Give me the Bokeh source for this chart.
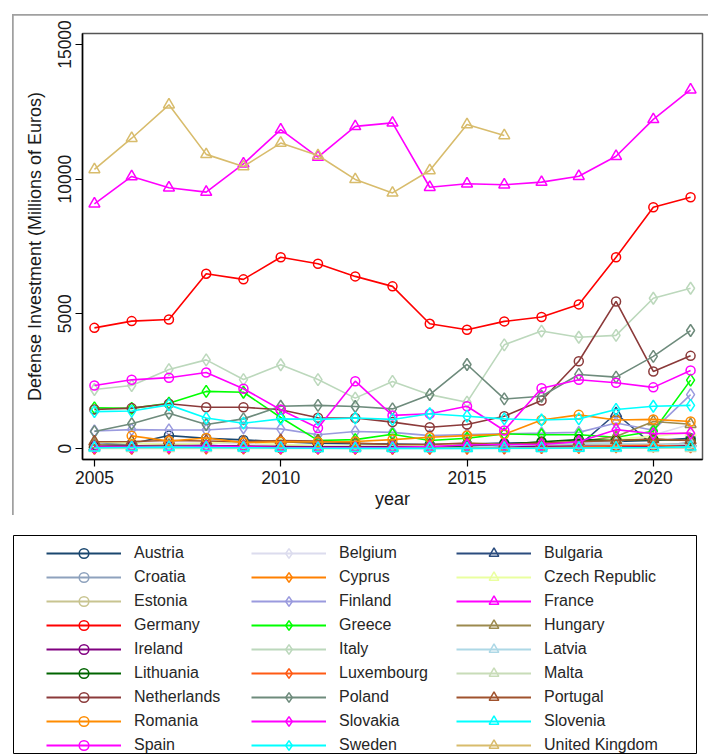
from bokeh.plotting import figure
from bokeh.models import ColumnDataSource, FixedTicker, Legend, LegendItem, Range1d
from bokeh.layouts import column
from bokeh.embed import file_html
from bokeh.resources import INLINE

nan = float("nan")
years = list(range(2005, 2022))

countries = ["Austria", "Belgium", "Bulgaria", "Croatia", "Cyprus", "Czech Republic",
             "Estonia", "Finland", "France", "Germany", "Greece", "Hungary",
             "Ireland", "Italy", "Latvia", "Lithuania", "Luxembourg", "Malta",
             "Netherlands", "Poland", "Portugal", "Romania", "Slovakia", "Slovenia",
             "Spain", "Sweden", "United Kingdom"]

austria = [150, 180, 480, 380, 320, 250, 200, 180, 170, 150, 170, 200, 220, 230, 260, 300, 380]
belgium = [250, 200, 180, 200, 180, 150, 120, 100, 80, 70, 80, 100, 150, 200, 250, 500, 900]
bulgaria = [60, 80, 100, 120, 60, 40, 30, 30, 30, 40, 40, 60, 60, 100, 1300, 120, 200]
croatia = [60, 70, 80, 70, 60, 50, 40, 40, 40, 30, 40, 60, 70, 80, 100, 90, 120]
cyprus = [30, 50, 60, 80, 70, 50, 30, 20, 20, 20, 20, 30, 50, 40, 60, 80, 90]
czech_republic = [250, 200, 150, 200, 250, 150, 100, 90, 80, 100, 200, 150, 200, 300, 350, 450, 600]
estonia = [30, 40, 60, 80, 60, 50, 50, 60, 70, 70, 100, 110, 130, 150, 150, 160, 170]
finland = [650, 700, 690, 690, 770, 730, 510, 630, 600, 480, 520, 545, 570, 600, 950, 680, 2000]
france = [9085, 10100, 9680, 9520, 10570, 11840, 10820, 11960, 12090, 9700, 9830, 9790, 9890, 10110, 10850, 12220, 13320]
germany = [4480, 4730, 4790, 6490, 6280, 7100, 6860, 6390, 6020, 4630, 4410, 4720, 4880, 5350, 7100, 8960, 9330]
greece = [1510, 1490, 1680, 2120, 2090, 1150, 300, 330, 530, 300, 380, 545, 510, 510, 420, 640, 2540]
hungary = [150, 100, 120, 100, 80, 80, 60, 50, 50, 60, 60, 100, 150, 250, 450, 1000, 900]
ireland = [80, 90, 80, 100, 90, 70, 60, 60, 60, 60, 60, 70, 70, 80, 80, 90, 100]
italy = [2190, 2340, 2930, 3290, 2560, 3110, 2560, 1870, 2490, 2000, 1720, 3850, 4360, 4130, 4200, 5580, 5950]
latvia = [30, 40, 60, 50, 20, 10, 10, 10, 20, 30, 50, 100, 150, 200, 180, 160, 170]
lithuania = [40, 40, 50, 50, 30, 20, 20, 20, 20, 40, 100, 160, 250, 330, 300, 340, 300]
luxembourg = [10, 10, 15, 20, 15, 10, 10, 10, 10, 10, 15, 20, 30, 50, 100, 120, 60]
malta = [5, 5, 5, 5, 5, 3, 3, 3, 3, 3, 5, 5, 5, 10, 10, 10, 10]
netherlands = [1450, 1500, 1660, 1530, 1530, 1440, 1140, 1130, 980, 790, 890, 1200, 1780, 3240, 5460, 2860, 3440]
poland = [630, 920, 1310, 890, 1100, 1570, 1600, 1560, 1470, 2000, 3120, 1840, 1940, 2750, 2650, 3420, 4380]
portugal = [250, 260, 300, 280, 250, 300, 280, 200, 150, 150, 200, 150, 200, 250, 300, 350, 300]
romania = [nan, 470, 280, 390, 220, 250, 240, 260, 330, 420, 480, 530, 1060, 1250, 1060, 1080, 1000]
slovakia = [50, 50, 60, 80, 60, 40, 30, 30, 40, 70, 130, 150, 150, 250, 700, 550, 570]
slovenia = [30, 40, 50, 40, 30, 20, 10, 5, 5, 5, 5, 10, 10, 20, 30, 40, 60]
spain = [2340, 2550, 2630, 2820, 2220, 1440, 760, 2500, 1230, 1290, 1570, 670, 2240, 2550, 2440, 2270, 2900]
sweden = [1370, 1390, 1620, 1130, 940, 1100, 1080, 1130, 1080, 1290, 1200, 1100, 1060, 1100, 1450, 1570, 1600]
united_kingdom = [10360, 11520, 12760, 10920, 10470, 11340, 10880, 9990, 9490, 10320, 12030, 11620, nan, nan, nan, nan, nan]

values = [austria, belgium, bulgaria, croatia, cyprus, czech_republic, estonia, finland,
          france, germany, greece, hungary, ireland, italy, latvia, lithuania, luxembourg,
          malta, netherlands, poland, portugal, romania, slovakia, slovenia, spain, sweden,
          united_kingdom]

colors = ["#1a476f", "#dcdcee", "#2b4c7e", "#8ea2bd", "#ff8000", "#eaff9f",
          "#c8c490", "#9a9ade", "#ff00ff", "#ff0000", "#00ff00", "#9c8a4e",
          "#800080", "#bcd8bc", "#add8e6", "#006400", "#ff5a14", "#c8dcb8",
          "#8b3a3a", "#6e8b7c", "#a0522d", "#ff8c00", "#ff00ff", "#00ffff",
          "#ff00ff", "#00ffff", "#d8bc6c"]

markers = ["circle", "diamond", "triangle"] * 9
marker_sizes = {"circle": 9, "diamond": 12, "triangle": 11}

x_ticks = [2005, 2010, 2015, 2020]
y_ticks = [0, 5000, 10000, 15000]

FONT = "Liberation Sans"

# main chart: placed 1px inside a gray-backed wrapper so a thin gray edge shows top/left
p = figure(width=695, height=500, output_backend="svg", toolbar_location=None,
           x_range=Range1d(2004.68, 2021.32), y_range=Range1d(-408, 15408),
           min_border_left=69, min_border_right=6, min_border_top=18, min_border_bottom=56,
           background_fill_color="white", border_fill_color="white",
           margin=(1, 0, 0, 1))
p.grid.visible = False
p.outline_line_color = "#555555"
p.outline_line_width = 1.5

for name, vals, col, mk in zip(countries, values, colors, markers):
    src = ColumnDataSource(dict(year=years, value=vals))
    p.line("year", "value", source=src, line_color=col, line_width=1.6)
    p.scatter("year", "value", source=src, marker=mk, size=marker_sizes[mk],
              line_color=col, fill_color=None, line_width=1.5)

p.xaxis.ticker = FixedTicker(ticks=x_ticks)
p.yaxis.ticker = FixedTicker(ticks=y_ticks)
p.xaxis.axis_label = "year"
p.yaxis.axis_label = "Defense Investment (Millions of Euros)"
p.yaxis.major_label_orientation = "vertical"
for ax in (p.xaxis[0], p.yaxis[0]):
    ax.major_tick_in = 0
    ax.major_tick_out = 7
    ax.minor_tick_line_color = None
    ax.axis_line_color = "black"
    ax.axis_line_width = 1.5
    ax.major_tick_line_color = "black"
    ax.major_tick_line_width = 1.2
    ax.major_label_text_font = FONT
    ax.major_label_text_font_size = "17.5px"
    ax.major_label_text_color = "#1a1a1a"
    ax.axis_label_text_font = FONT
    ax.axis_label_text_font_size = "18px"
    ax.axis_label_text_font_style = "normal"
    ax.axis_label_text_color = "#1a1a1a"
p.xaxis.major_label_standoff = 4
p.xaxis.axis_label_standoff = 2
p.yaxis.major_label_standoff = 4
p.yaxis.axis_label_standoff = 11

chart = column(p, margin=(14, 0, 0, 12), spacing=0,
               styles={"background-color": "#a0a0a0"})

# Legend panel
lf = figure(width=708, height=239, output_backend="svg", toolbar_location=None,
            x_range=Range1d(0, 1), y_range=Range1d(0, 1), x_axis_type=None, y_axis_type=None,
            min_border_left=13, min_border_right=12, min_border_top=20, min_border_bottom=0,
            background_fill_color="white", border_fill_color="white")
lf.grid.visible = False
lf.outline_line_color = "black"
lf.outline_line_width = 1

items = []
for name, col, mk in zip(countries, colors, markers):
    r1 = lf.line(x=[nan], y=[nan], line_color=col, line_width=2)
    r2 = lf.scatter(x=[nan], y=[nan], marker=mk, size=9, line_color=col,
                    fill_color=None, line_width=1.5)
    items.append(LegendItem(label=name, renderers=[r1, r2]))

leg = Legend(items=items, orientation="horizontal", ncols=3, location=(33, -3),
             padding=0, margin=0, spacing=0, glyph_width=75, glyph_height=24,
             label_height=24, label_width=117, label_standoff=13,
             border_line_alpha=0, background_fill_alpha=0,
             label_text_font=FONT, label_text_font_size="16px",
             label_text_color="#262626")
lf.add_layout(leg)

open("out.html", "w").write(file_html([chart, lf], INLINE))
